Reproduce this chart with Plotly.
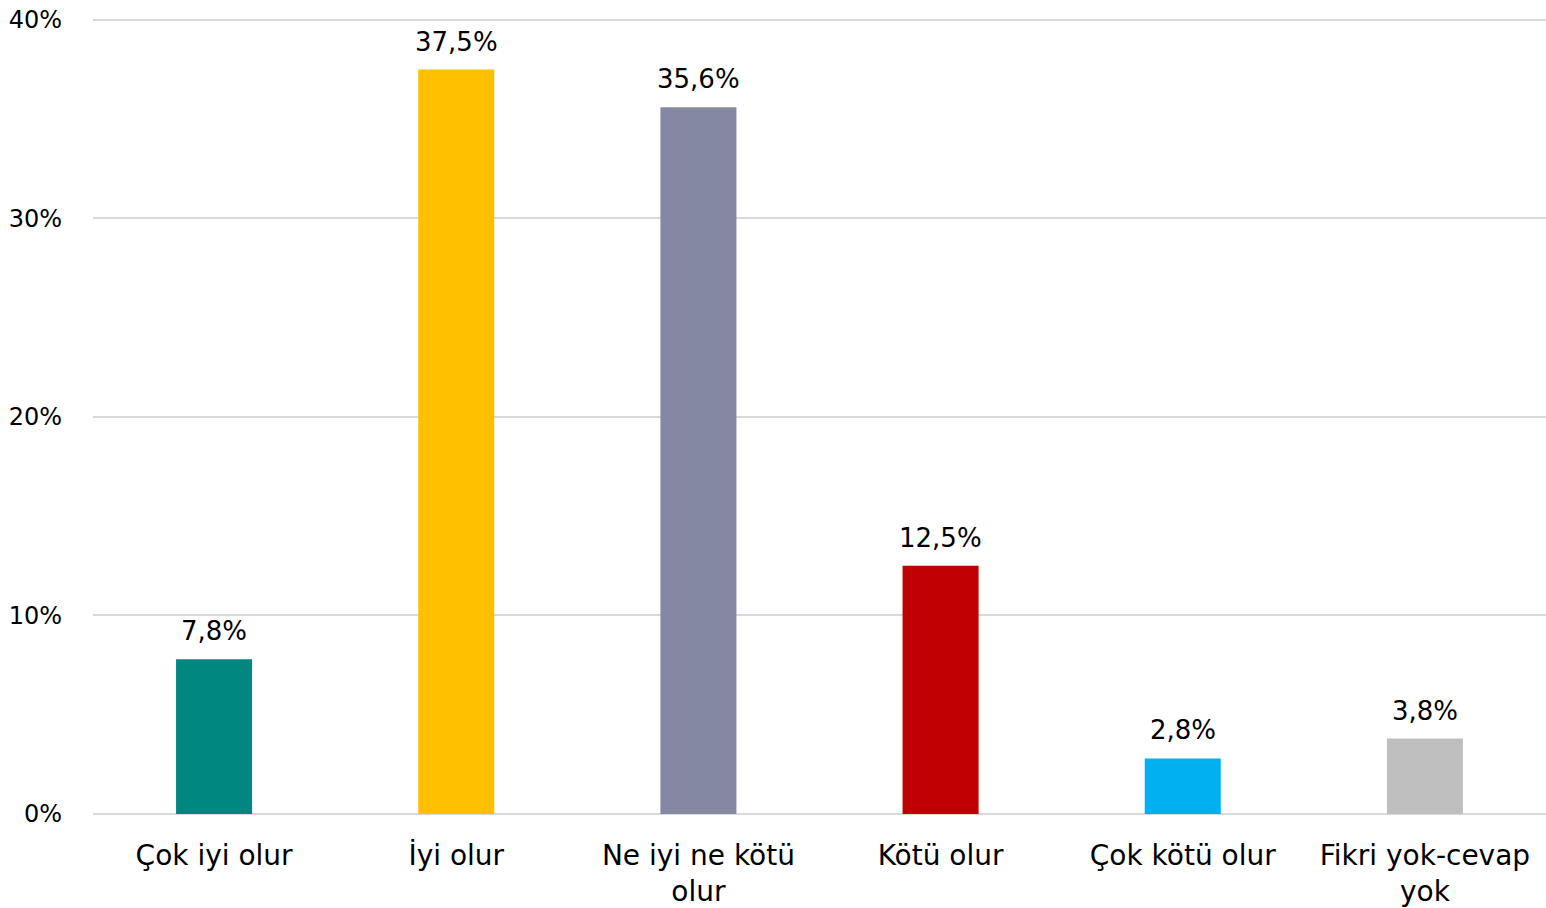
import plotly.graph_objects as go

# 回答カテゴリと割合(%)
categories = ["Çok iyi olur", "İyi olur", "Ne iyi ne kötü<br>olur", "Kötü olur",
              "Çok kötü olur", "Fikri yok-cevap<br>yok"]
values = [7.8, 37.5, 35.6, 12.5, 2.8, 3.8]
labels = ["7,8%", "37,5%", "35,6%", "12,5%", "2,8%", "3,8%"]
colors = ["#00877F", "#FFC000", "#8588A2", "#C00000", "#00B0F0", "#BFBFBF"]

tick_vals = [0, 10, 20, 30, 40]
tick_text = ["0%", "10%", "20%", "30%", "40%"]

font_name = "DejaVu Sans"

fig = go.Figure()

fig.add_trace(go.Bar(
    x=categories,
    y=values,
    marker=dict(color=colors, line=dict(width=0)),
    hoverinfo="x+y",
))

# データラベル(バーの上に少し間隔をあけて表示)
for c, v, t in zip(categories, values, labels):
    fig.add_annotation(
        x=c, y=v, text=t,
        showarrow=False,
        yanchor="bottom",
        yshift=11,
        font=dict(size=26, color="#000000", family=font_name),
    )

# 40%のグリッド線が端で消えないよう、上端に少し余白を持たせる
fig.update_layout(
    width=1546,
    height=908,
    margin=dict(l=93, r=0, t=14, b=94),
    plot_bgcolor="white",
    paper_bgcolor="white",
    bargap=0.686,
    showlegend=False,
    font=dict(family=font_name, size=28, color="#000000"),
    xaxis=dict(
        tickfont=dict(size=28),
        showgrid=False,
        showline=False,
        ticks="",
        automargin=False,
        ticklabelstandoff=22,
    ),
    yaxis=dict(
        range=[0, 40.3],
        tickvals=tick_vals,
        ticktext=tick_text,
        tickfont=dict(size=24),
        showgrid=True,
        gridcolor="#D9D9D9",
        gridwidth=2,
        zeroline=True,
        zerolinecolor="#D9D9D9",
        zerolinewidth=2,
        ticks="",
        automargin=False,
        ticklabelstandoff=30,
        ticklabeloverflow="allow",
    ),
)

# ページのbody余白を消して、図をウィンドウ全体に合わせる
fig.write_html(
    "out.html",
    config={"displayModeBar": False},
    post_script="document.body.style.margin='0px'; document.body.style.overflow='hidden';",
)
